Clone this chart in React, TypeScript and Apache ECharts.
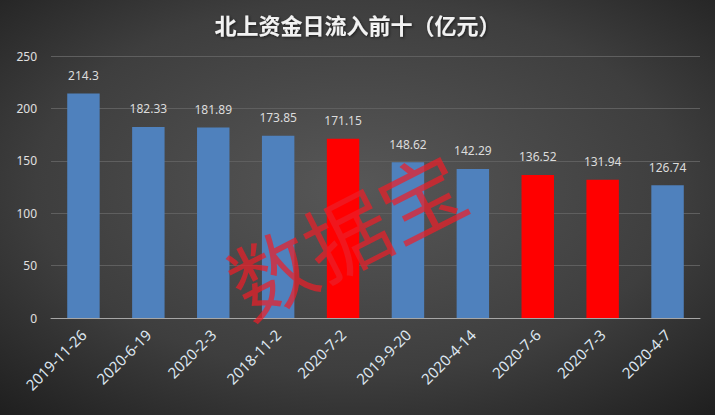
import React, { useEffect, useRef } from "react";
import * as echarts from "echarts";

const categories = ["2019-11-26", "2020-6-19", "2020-2-3", "2018-11-2", "2020-7-2", "2019-9-20", "2020-4-14", "2020-7-6", "2020-7-3", "2020-4-7"];
const values = [214.3, 182.33, 181.89, 173.85, 171.15, 148.62, 142.29, 136.52, 131.94, 126.74];
const highlighted = [false, false, false, false, true, false, false, true, true, false];
const yTicks = { min: 0, max: 250, interval: 50 };

export default function App() {
  const ref = useRef<HTMLDivElement>(null);
  useEffect(() => {
    const chart = echarts.init(ref.current!, null, { renderer: "svg" });
    chart.setOption({
      animation: false,
      backgroundColor: {
        type: "radial",
        x: 0.5,
        y: 0.45,
        r: 0.75,
        colorStops: [
          { offset: 0, color: "#575757" },
          { offset: 0.6, color: "#3e3e3e" },
          { offset: 1, color: "#1e1e1e" },
        ],
      },
      title: {
        text: "北上资金日流入前十（亿元）",
        left: "center",
        top: 8,
        textStyle: {
          color: "#f2f2f2",
          fontSize: 22,
          fontWeight: "bold",
          fontFamily: "Noto Sans CJK SC",
          textShadowColor: "rgba(0,0,0,0.6)",
          textShadowBlur: 3,
          textShadowOffsetX: 1,
          textShadowOffsetY: 1,
        },
      },
      grid: { left: 51, right: 15, top: 56, bottom: 97 },
      xAxis: {
        type: "category",
        data: categories,
        axisLine: { lineStyle: { color: "#a6a6a6", width: 1 } },
        axisTick: { show: false },
        axisLabel: {
          rotate: 45,
          color: "#dde6f0",
          fontSize: 15,
          fontFamily: "Noto Sans",
          margin: 14,
          interval: 0,
        },
      },
      yAxis: {
        type: "value",
        min: yTicks.min,
        max: yTicks.max,
        interval: yTicks.interval,
        axisLine: { show: false },
        axisTick: { show: false },
        axisLabel: { color: "#e0e0e0", fontSize: 12, fontFamily: "Noto Sans", margin: 14 },
        splitLine: { lineStyle: { color: "#5f5f5f", width: 1 } },
      },
      series: [
        {
          type: "bar",
          barWidth: "50%",
          data: values.map((v, i) => ({
            value: v,
            itemStyle: { color: highlighted[i] ? "#ff0000" : "#4f81bd" },
          })),
          label: {
            show: true,
            position: "top",
            distance: 12,
            color: "#dcdcdc",
            fontSize: 12,
            fontFamily: "Noto Sans",
          },
        },
      ],
      graphic: [
        {
          type: "text",
          x: 345,
          y: 232,
          rotation: (27 * Math.PI) / 180,
          z: 100,
          style: {
            text: "数据宝",
            fontSize: 84,
            fontFamily: "Noto Sans CJK SC",
            fontWeight: "normal",
            fill: "rgba(235, 30, 40, 0.72)",
            align: "center",
            verticalAlign: "middle",
          },
        },
      ],
    });
    return () => chart.dispose();
  }, []);
  return <div ref={ref} style={{ width: 715, height: 415, position: "absolute", left: 0, top: 0 }} />;
}
